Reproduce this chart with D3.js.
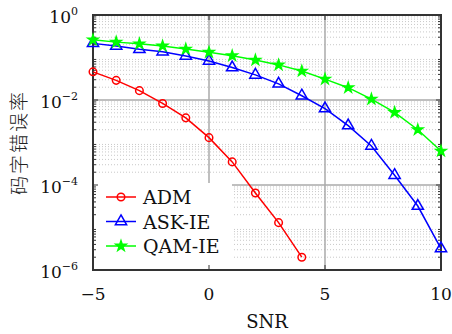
<!DOCTYPE html>
<html>
<head>
<meta charset="utf-8">
<script src="https://cdn.jsdelivr.net/npm/d3@7"></script>
<style>
  body { margin: 0; background: #fff; }
</style>
</head>
<body>
<div id="chart"></div>
<script>
// data
var snr = [-5, -4, -3, -2, -1, 0, 1, 2, 3, 4, 5, 6, 7, 8, 9, 10];
var admX = [-5, -4, -3, -2, -1, 0, 1, 2, 3, 4];
var admY = [0.046, 0.029, 0.0166, 0.0083, 0.0038, 0.0013, 3.5e-4, 6.5e-5, 1.3e-5, 2.0e-6];
var askY = [0.215, 0.187, 0.156, 0.137, 0.109, 0.083, 0.058, 0.039, 0.024, 0.0126,
            0.0063, 0.0025, 8.3e-4, 1.7e-4, 3.2e-5, 3.2e-6];
var qamY = [0.26, 0.23, 0.21, 0.187, 0.158, 0.133, 0.110, 0.087, 0.067, 0.048,
            0.031, 0.0195, 0.0105, 0.0051, 0.0020, 6.3e-4];
var xTicks = [-5, 0, 5, 10];
var yTicks = [1, 1e-2, 1e-4, 1e-6];
var yTickExp = ["0", "−2", "−4", "−6"];
var seriesNames = ["ADM", "ASK-IE", "QAM-IE"];
var seriesColors = ["#ff0000", "#0000ff", "#00ff00"];

var serif = "DejaVu Serif";

var W = 452, H = 334;
var margin = { top: 15, left: 93, right: 11, bottom: 64 };
var width = W - margin.left - margin.right,
    height = H - margin.top - margin.bottom;

var svg = d3.select("#chart").append("svg")
    .attr("width", W).attr("height", H);
var g = svg.append("g")
    .attr("transform", "translate(" + margin.left + "," + margin.top + ")");

var x = d3.scaleLinear().domain([-5, 10]).range([0, width]);
var y = d3.scaleLog().domain([1e-6, 1]).range([height, 0]);

// minor values 2..9 x 10^k
var minor = [];
for (var k = -6; k < 0; k++) {
    for (var m = 2; m <= 9; m++) minor.push(m * Math.pow(10, k));
}

// minor grid (dotted)
g.selectAll(".minorgrid").data(minor).enter().append("line")
    .attr("x1", 0).attr("x2", width)
    .attr("y1", function (d) { return y(d); })
    .attr("y2", function (d) { return y(d); })
    .attr("stroke", "#c8c8c8").attr("stroke-width", 1)
    .attr("stroke-dasharray", "1,2");

// major grid
g.selectAll(".hgrid").data([1e-2, 1e-4]).enter().append("line")
    .attr("x1", 0).attr("x2", width)
    .attr("y1", function (d) { return y(d); })
    .attr("y2", function (d) { return y(d); })
    .attr("stroke", "#aaa").attr("stroke-width", 1.5);
g.selectAll(".vgrid").data([0, 5]).enter().append("line")
    .attr("x1", function (d) { return x(d); })
    .attr("x2", function (d) { return x(d); })
    .attr("y1", 0).attr("y2", height)
    .attr("stroke", "#aaa").attr("stroke-width", 1.5);

// legend background covers the grid
var legX = 1, legY = 168, legW = 138, legH = 86;
g.append("rect").attr("x", legX).attr("y", legY)
    .attr("width", legW).attr("height", legH).attr("fill", "#fff");

// ticks inside the box
var ticks = g.append("g").attr("stroke", "#333").attr("stroke-width", 1);
xTicks.forEach(function (t) {
    ticks.append("line").attr("x1", x(t)).attr("x2", x(t)).attr("y1", height).attr("y2", height - 5);
    ticks.append("line").attr("x1", x(t)).attr("x2", x(t)).attr("y1", 0).attr("y2", 5);
});
minor.forEach(function (t) {
    ticks.append("line").attr("x1", 0).attr("x2", 3).attr("y1", y(t)).attr("y2", y(t));
    ticks.append("line").attr("x1", width).attr("x2", width - 3).attr("y1", y(t)).attr("y2", y(t));
});
yTicks.forEach(function (t) {
    ticks.append("line").attr("x1", 0).attr("x2", 5).attr("y1", y(t)).attr("y2", y(t));
    ticks.append("line").attr("x1", width).attr("x2", width - 5).attr("y1", y(t)).attr("y2", y(t));
});

// frame
g.append("rect").attr("width", width).attr("height", height)
    .attr("fill", "none").attr("stroke", "#333").attr("stroke-width", 2);

// tick labels
g.selectAll(".xlab").data(xTicks).enter().append("text")
    .attr("x", function (d) { return x(d); })
    .attr("y", height + 30)
    .attr("text-anchor", "middle")
    .style("font-family", serif)
    .attr("font-size", 17)
    .attr("fill", "#111")
    .text(function (d) { return d < 0 ? "−" + Math.abs(d) : d; });

yTicks.forEach(function (t, i) {
    var tx = g.append("text")
        .attr("x", -15).attr("y", y(t) + 8)
        .attr("text-anchor", "end")
        .style("font-family", serif)
        .attr("font-size", 17).attr("fill", "#111");
    tx.append("tspan").text("10");
    tx.append("tspan").attr("font-size", 11).attr("dy", -8).text(yTickExp[i]);
});

// axis titles
svg.append("text")
    .attr("x", margin.left + width / 2).attr("y", 328)
    .attr("text-anchor", "middle")
    .style("font-family", serif)
    .attr("font-size", 18).attr("fill", "#111")
    .text("SNR");
svg.append("text")
    .attr("transform", "translate(26," + (margin.top + height / 2) + ") rotate(-90)")
    .attr("text-anchor", "middle")
    .attr("font-size", 19)
    .attr("fill", "#222")
    .style("font-family", "'Noto Sans CJK SC', sans-serif")
    .attr("font-weight", 300)
    .attr("letter-spacing", 2)
    .text("码字错误率");

// series
var series = [
    admX.map(function (d, i) { return [d, admY[i]]; }),
    snr.map(function (d, i) { return [d, askY[i]]; }),
    snr.map(function (d, i) { return [d, qamY[i]]; })
];
var line = d3.line()
    .x(function (d) { return x(d[0]); })
    .y(function (d) { return y(d[1]); });

var markers = [
    d3.symbol().type(d3.symbolCircle).size(45),
    d3.symbol().type(d3.symbolTriangle).size(55),
    d3.symbol().type(d3.symbolStar).size(32)
];

function drawMarker(sel, i) {
    sel.attr("d", markers[i]())
        .attr("fill", i == 2 ? seriesColors[i] : "none")
        .attr("stroke", seriesColors[i])
        .attr("stroke-width", 1.5);
}

series.forEach(function (s, i) {
    g.append("path").datum(s).attr("d", line)
        .attr("fill", "none").attr("stroke", seriesColors[i]).attr("stroke-width", 1.5);
    g.selectAll(".m" + i).data(s).enter().append("path")
        .attr("transform", function (d) { return "translate(" + x(d[0]) + "," + y(d[1]) + ")"; })
        .call(drawMarker, i);
});

// legend
seriesNames.forEach(function (name, i) {
    var ly = legY + 14 + i * 24.5;
    g.append("line").attr("x1", 13).attr("x2", 43).attr("y1", ly).attr("y2", ly)
        .attr("stroke", seriesColors[i]).attr("stroke-width", 1.5);
    g.append("path").attr("transform", "translate(28," + ly + ")").call(drawMarker, i);
    g.append("text").attr("x", 50).attr("y", ly + 7)
        .style("font-family", serif).attr("fill", "#111")
        .attr("font-size", 19).text(name);
});
</script>
</body>
</html>
